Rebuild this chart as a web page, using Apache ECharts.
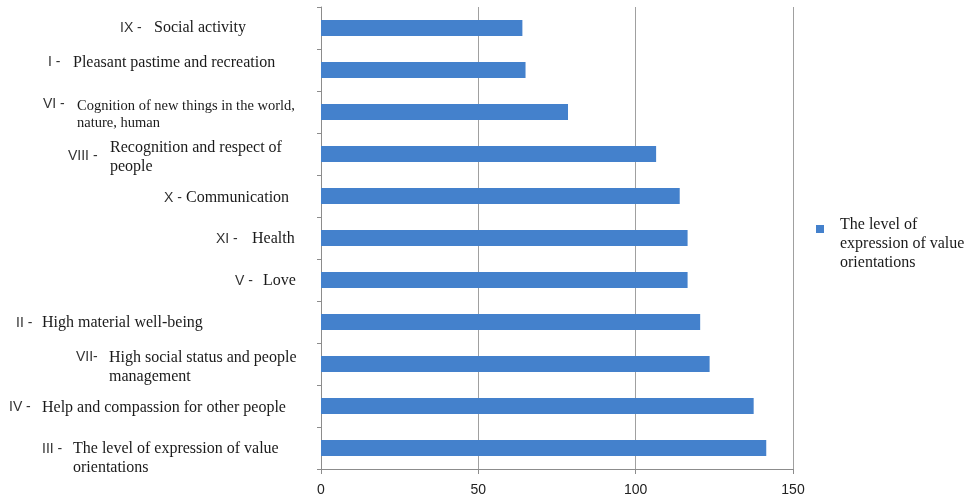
<!DOCTYPE html>
<html><head><meta charset="utf-8">
<script src="https://cdn.jsdelivr.net/npm/echarts@6/dist/echarts.min.js"></script>
<style>html,body{margin:0;padding:0;background:#fff}#c{width:971px;height:500px}</style>
</head><body><div id="c"></div>
<script>
var romans = ['IX -', 'I -', 'VI -', 'VIII -', 'X -', 'XI -', 'V -', 'II -', 'VII-', 'IV -', 'III -'];
var names = ['Social activity', 'Pleasant pastime and recreation', 'Cognition of new things in the world,\nnature, human', 'Recognition and respect of\npeople', 'Communication', 'Health', 'Love', 'High material well-being', 'High social status and people\nmanagement', 'Help and compassion for other people', 'The level of expression of value\norientations'];
var values = [64, 65, 78.5, 106.5, 114, 116.5, 116.5, 120.5, 123.5, 137.5, 141.5];
var xTicks = [0, 50, 100, 150];
var seriesName = 'The level of expression of value orientations';
var legendLines = ['The level of', 'expression of value', 'orientations'];

// label layout (style only)
var romanX = [120, 48, 43, 68, 164, 216, 235, 16, 76, 9, 42];
var textX  = [154, 73, 77, 110, 186, 252, 263, 42, 109, 42, 73];
var nameNudge  = [0, -7, 3, 3, 2, 1, 1, 1, 3, 2, 10];
var romanNudge = [0, -8, -8, 2, 2, 1, 1, 1, -7, 1, 1];
var textSize = [16, 16, 14.5, 16, 16, 16, 16, 16, 16, 16, 16];
var textLH   = [19, 19, 17, 19, 19, 19, 19, 19, 19, 19, 19];

var SANS = '"Liberation Sans", Arial, sans-serif';
var SERIF = '"Liberation Serif", "Times New Roman", serif';

function spacerWrap(s, key, nudge) {
  var sp = '{' + key + '|\u00a0}';
  if (nudge > 0) return sp + '\n' + s;
  if (nudge < 0) return s + '\n' + sp;
  return s;
}

var nameRich = {}, romanRich = {};
romans.forEach(function (r, i) {
  nameRich['q' + i] = {width: textX[i], fontSize: 12, lineHeight: textLH[i]};
  nameRich['t' + i] = {fontFamily: SERIF, fontSize: textSize[i], color: '#1a1a1a', lineHeight: textLH[i]};
  nameRich['u' + i] = {lineHeight: Math.max(1, Math.abs(nameNudge[i]) * 2), fontSize: 1, width: 1};
  romanRich['p' + i] = {width: romanX[i], fontSize: 12, lineHeight: 19};
  romanRich['r' + i] = {fontFamily: SANS, fontSize: 14, color: '#333', lineHeight: 19};
  romanRich['u' + i] = {lineHeight: Math.max(1, Math.abs(romanNudge[i]) * 2), fontSize: 1, width: 1};
});

var cats = romans.map(function (r, i) { return r + ' ' + names[i]; });

var chart = echarts.init(document.getElementById('c'));
chart.setOption({
  animation: false,
  backgroundColor: '#fff',
  grid: {left: 321, right: 178, top: 7, bottom: 31, containLabel: false, outerBoundsMode: 'none'},
  legend: {
    left: 816, top: 200, orient: 'vertical', padding: 0,
    icon: 'rect', itemWidth: 8, itemHeight: 8,
    data: [seriesName],
    formatter: function () {
      return '{s|\u00a0}\n' + legendLines.map(function (l) { return '{a|' + l + '}'; }).join('\n');
    },
    textStyle: {
      padding: [0, 0, 0, 11],
      rich: {
        s: {lineHeight: 30, fontSize: 1},
        a: {fontFamily: SERIF, fontSize: 16, color: '#1a1a1a', lineHeight: 19}
      }
    }
  },
  xAxis: {
    type: 'value', min: 0, max: 150, interval: 50,
    axisLine: {show: true, lineStyle: {color: '#8c8c8c'}},
    axisTick: {show: true, length: 5, lineStyle: {color: '#8c8c8c'}},
    splitLine: {show: true, lineStyle: {color: '#a0a0a0'}},
    axisLabel: {fontFamily: SANS, fontSize: 14, color: '#222', margin: 14,
      formatter: function (v) { return xTicks.indexOf(v) >= 0 ? String(v) : ''; }}
  },
  yAxis: [{
    type: 'category', inverse: true, data: cats, position: 'left',
    axisLine: {show: true, lineStyle: {color: '#8c8c8c'}},
    axisTick: {show: true, length: 4, lineStyle: {color: '#8c8c8c'}},
    axisLabel: {
      align: 'left', margin: 321, rich: romanRich,
      formatter: function (v, i) {
        return spacerWrap('{p' + i + '|\u00a0}{r' + i + '|' + romans[i] + '}', 'u' + i, romanNudge[i]);
      }
    }
  }, {
    type: 'category', inverse: true, data: cats, position: 'left', offset: 0,
    axisLine: {show: false}, axisTick: {show: false}, splitLine: {show: false},
    axisLabel: {
      align: 'left', margin: 321, rich: nameRich,
      formatter: function (v, i) {
        var s = names[i].split('\n').map(function (l) {
          return '{q' + i + '|\u00a0}{t' + i + '|' + l + '}';
        }).join('\n');
        return spacerWrap(s, 'u' + i, nameNudge[i]);
      }
    }
  }],
  series: [{
    name: seriesName, type: 'bar', data: values, barWidth: 16, yAxisIndex: 0,
    itemStyle: {color: '#4481cc'}
  }]
});
</script></body></html>
